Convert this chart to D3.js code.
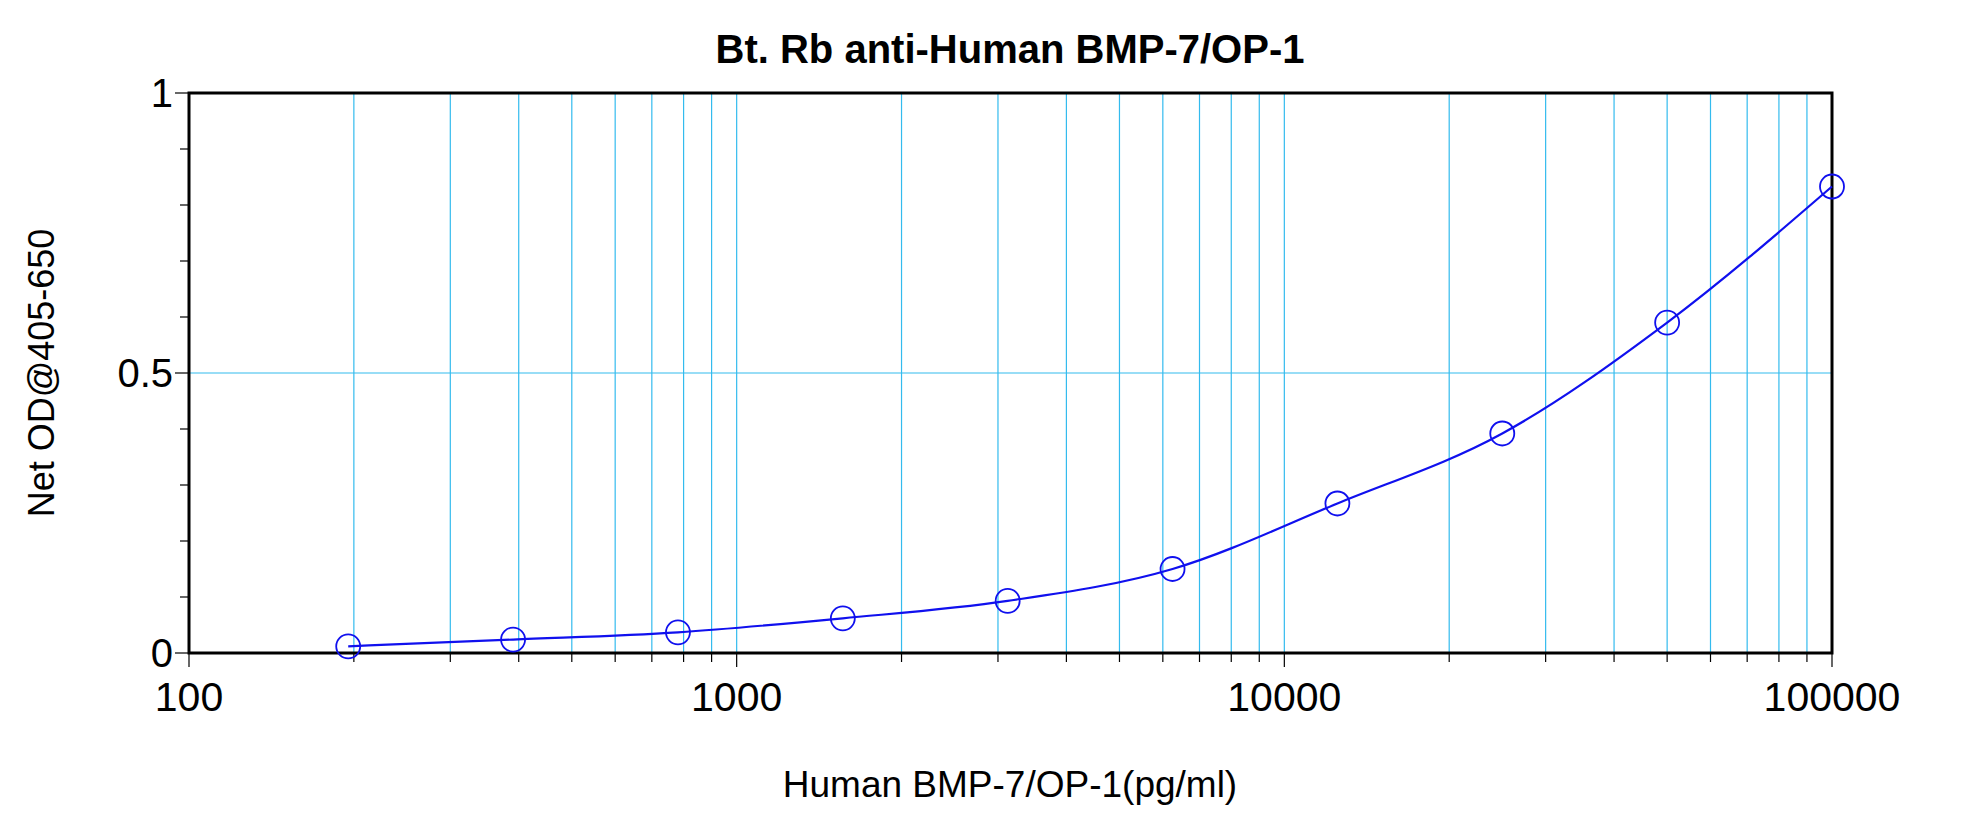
<!DOCTYPE html><html><head><script src="https://cdn.jsdelivr.net/npm/d3@7"></script>
<style>body{margin:0;background:#fff}text{font-family:"Liberation Sans",Arial,sans-serif}</style></head><body>
<svg id="c" width="1980" height="814"></svg>
<script>
const conc=[195.3,390.6,781.3,1562.5,3125,6250,12500,25000,50000,100000];
const od=[0.012,0.024,0.037,0.062,0.093,0.150,0.267,0.392,0.590,0.833];
const xTicks=[100,1000,10000,100000];
const yTicks=[0,0.5,1];
const svg=d3.select("#c");
const L=189,R=1832,T=93,B=653;
const x=d3.scaleLog().domain([100,100000]).range([L,R]);
const y=d3.scaleLinear().domain([0,1]).range([B,T]);
const minor=[];for(let d=100;d<100000;d*=10)for(let k=2;k<=9;k++)minor.push(d*k);
const g=svg.append("g");
g.selectAll(".vg").data(minor.concat([1000,10000])).join("line").attr("x1",d=>x(d)).attr("x2",d=>x(d)).attr("y1",T).attr("y2",B).attr("stroke","#33bbee").attr("stroke-width",1.2);
g.append("line").attr("x1",L).attr("x2",R).attr("y1",y(0.5)).attr("y2",y(0.5)).attr("stroke","#33bbee").attr("stroke-width",1.2);
g.selectAll(".xt").data(minor.concat(xTicks)).join("line").attr("x1",d=>x(d)).attr("x2",d=>x(d)).attr("y1",B).attr("y2",d=>xTicks.includes(d)?B+14:B+9).attr("stroke","#000").attr("stroke-width",1.2);
g.selectAll(".xl").data(xTicks).join("text").attr("x",d=>x(d)).attr("y",B+58).attr("text-anchor","middle").attr("font-size",41).text(d=>d);
const yminor=d3.range(0,1.001,0.1);
g.selectAll(".yt").data(yminor).join("line").attr("x1",d=>yTicks.some(t=>Math.abs(t-d)<1e-6)?L-14:L-9).attr("x2",L).attr("y1",d=>y(d)).attr("y2",d=>y(d)).attr("stroke","#000").attr("stroke-width",1.2);
g.selectAll(".yl").data(yTicks).join("text").attr("x",L-16).attr("y",d=>y(d)+14).attr("text-anchor","end").attr("font-size",40).text(d=>d);
g.append("rect").attr("x",L).attr("y",T).attr("width",R-L).attr("height",B-T).attr("fill","none").attr("stroke","#000").attr("stroke-width",3);
const pts=conc.map((c,i)=>[x(c),y(od[i])]);
svg.append("path").attr("d",d3.line().curve(d3.curveMonotoneX)(pts)).attr("fill","none").attr("stroke","#1010ee").attr("stroke-width",2.2);
svg.selectAll(".pt").data(pts).join("circle").attr("cx",d=>d[0]).attr("cy",d=>d[1]).attr("r",12).attr("fill","none").attr("stroke","#1010ee").attr("stroke-width",1.8);
svg.append("text").attr("x",1010).attr("y",63).attr("text-anchor","middle").attr("font-size",40).attr("font-weight","bold").text("Bt. Rb anti-Human BMP-7/OP-1");
svg.append("text").attr("x",1010).attr("y",797).attr("text-anchor","middle").attr("font-size",37).text("Human BMP-7/OP-1(pg/ml)");
svg.append("text").attr("transform",`translate(54,${(T+B)/2}) rotate(-90)`).attr("text-anchor","middle").attr("font-size",36).text("Net OD@405-650");
</script></body></html>
